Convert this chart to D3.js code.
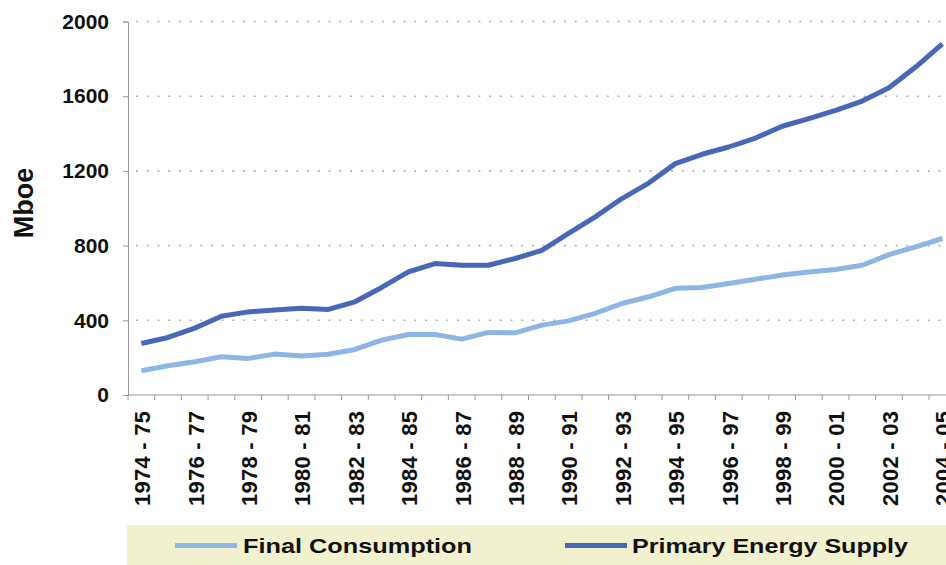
<!DOCTYPE html>
<html>
<head>
<meta charset="utf-8">
<script src="https://cdn.jsdelivr.net/npm/d3@7/dist/d3.min.js"></script>
<style>
  html, body { margin: 0; padding: 0; background: #fff; }
  svg { display: block; font-family: "Liberation Sans", Arial, sans-serif; }
</style>
</head>
<body>
<svg id="chart" width="946" height="565"></svg>
<script>
// Fiscal years shown on the category axis
const years = [
  "1974 - 75", "1975 - 76", "1976 - 77", "1977 - 78", "1978 - 79", "1979 - 80",
  "1980 - 81", "1981 - 82", "1982 - 83", "1983 - 84", "1984 - 85", "1985 - 86",
  "1986 - 87", "1987 - 88", "1988 - 89", "1989 - 90", "1990 - 91", "1991 - 92",
  "1992 - 93", "1993 - 94", "1994 - 95", "1995 - 96", "1996 - 97", "1997 - 98",
  "1998 - 99", "1999 - 00", "2000 - 01", "2001 - 02", "2002 - 03", "2003 - 04",
  "2004 - 05"
];
// Mboe
const finalConsumption = [
  130, 157, 178, 205, 196, 219, 209, 218, 244, 294, 324, 324, 299, 335, 333, 374,
  397, 437, 490, 526, 571, 576, 597, 620, 642, 659, 672, 695, 752, 793, 838
];
const primarySupply = [
  276, 308, 358, 422, 445, 455, 464, 458, 499, 576, 659, 704, 695, 695, 731, 775,
  865, 954, 1052, 1135, 1239, 1289, 1328, 1376, 1439, 1480, 1524, 1574, 1645, 1756, 1880
];
const yTicks = [0, 400, 800, 1200, 1600, 2000];
const labelledYears = years.filter((d, i) => i % 2 === 0);

const series = [
  { name: "Final Consumption", values: finalConsumption, color: "#8db6e4" },
  { name: "Primary Energy Supply", values: primarySupply, color: "#4767b7" }
];

const svg = d3.select("#chart");
const W = 946;
const plotLeft = 128, plotBottom = 395, plotTop = 21.5;
const step = 26.7;

const x = d3.scaleBand().domain(years).range([plotLeft, plotLeft + step * years.length]).padding(0);
const y = d3.scaleLinear().domain([0, 2000]).range([plotBottom, plotTop]);

// dotted horizontal gridlines
svg.append("g")
  .selectAll("line")
  .data(yTicks.filter(d => d > 0))
  .join("line")
  .attr("x1", plotLeft + 8).attr("x2", W)
  .attr("y1", d => y(d)).attr("y2", d => y(d))
  .attr("stroke", "#b0b0c2")
  .attr("stroke-width", 1.6)
  .attr("stroke-dasharray", "2,8.7");

// y axis
const yAxis = svg.append("g")
  .attr("transform", `translate(${plotLeft},0)`)
  .call(d3.axisLeft(y).tickValues(yTicks).tickSize(5).tickPadding(14).tickFormat(d3.format("d")));
yAxis.select(".domain").attr("stroke", "#9a9a9a");
yAxis.selectAll(".tick line").attr("stroke", "#9a9a9a");
yAxis.selectAll(".tick text")
  .attr("font-size", 21)
  .attr("font-weight", "bold")
  .attr("fill", "#111")
  .attr("font-family", "'Liberation Sans', Arial, sans-serif");

// x axis line and tick marks between categories
svg.append("line")
  .attr("x1", plotLeft).attr("x2", W)
  .attr("y1", plotBottom).attr("y2", plotBottom)
  .attr("stroke", "#9a9a9a");
svg.append("g")
  .selectAll("line")
  .data(years.concat(["end"]))
  .join("line")
  .attr("x1", d => d === "end" ? x.range()[1] : x(d))
  .attr("x2", d => d === "end" ? x.range()[1] : x(d))
  .attr("y1", plotBottom).attr("y2", plotBottom + 5)
  .attr("stroke", "#9a9a9a");

// rotated category labels
const xAxis = svg.append("g")
  .attr("transform", `translate(0,${plotBottom})`)
  .call(d3.axisBottom(x).tickValues(labelledYears).tickSize(0));
xAxis.select(".domain").remove();
xAxis.selectAll(".tick text")
  .attr("font-size", 22)
  .attr("font-weight", "bold")
  .attr("fill", "#111")
  .attr("font-family", "'Liberation Sans', Arial, sans-serif")
  .attr("text-anchor", "end")
  .attr("transform", "translate(1,16) rotate(-90)")
  .attr("x", 0).attr("y", 0).attr("dy", "0.36em")
  .attr("textLength", 95)
  .attr("lengthAdjust", "spacing");

// y axis title
svg.append("text")
  .attr("transform", "translate(23,203) rotate(-90)")
  .attr("text-anchor", "middle")
  .attr("dy", "0.36em")
  .attr("font-size", 27)
  .attr("font-weight", "bold")
  .attr("fill", "#111")
  .text("Mboe");

// series lines
const line = d3.line()
  .x((d, i) => x(years[i]) + x.bandwidth() / 2)
  .y(d => y(d));

svg.append("g")
  .selectAll("path")
  .data(series)
  .join("path")
  .attr("d", s => line(s.values))
  .attr("fill", "none")
  .attr("stroke", s => s.color)
  .attr("stroke-width", 5)
  .attr("stroke-linejoin", "round");

// legend strip
const legend = svg.append("g");
legend.append("rect")
  .attr("x", 127).attr("y", 525)
  .attr("width", W - 127).attr("height", 45)
  .attr("fill", "#f1f1cf");

const legendItems = [
  { s: series[0], x1: 175, x2: 237, tx: 243, len: 229 },
  { s: series[1], x1: 565, x2: 627, tx: 632, len: 276 }
];
legendItems.forEach(item => {
  legend.append("line")
    .attr("x1", item.x1).attr("x2", item.x2)
    .attr("y1", 545.5).attr("y2", 545.5)
    .attr("stroke", item.s.color)
    .attr("stroke-width", 5);
  legend.append("text")
    .attr("x", item.tx).attr("y", 553)
    .attr("font-size", 21)
    .attr("font-weight", "bold")
    .attr("fill", "#111")
    .attr("textLength", item.len)
    .attr("lengthAdjust", "spacingAndGlyphs")
    .text(item.s.name);
});
</script>
</body>
</html>
